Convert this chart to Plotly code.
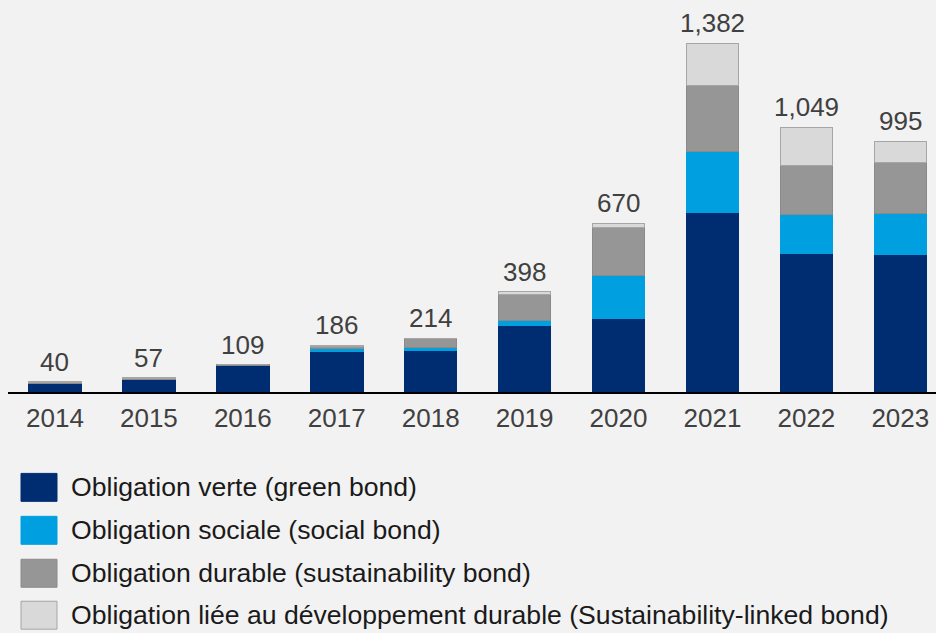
import plotly.graph_objects as go

years = ["2014", "2015", "2016", "2017", "2018", "2019", "2020", "2021", "2022", "2023"]
green = [34, 49, 104, 161, 164, 265, 290, 713, 549, 545]
social = [0, 0, 0, 11, 14, 20, 172, 242, 153, 163]
sustain = [2, 3, 5, 7, 36, 100, 189, 260, 198, 202]
linked = [4, 5, 0, 7, 0, 13, 19, 167, 149, 85]
totals = [40, 57, 109, 186, 214, 398, 670, 1382, 1049, 995]
total_labels = ["40", "57", "109", "186", "214", "398", "670", "1,382", "1,049", "995"]

names = [
    "Obligation verte (green bond)",
    "Obligation sociale (social bond)",
    "Obligation durable (sustainability bond)",
    "Obligation liée au développement durable (Sustainability-linked bond)",
]
colors = ["#002D72", "#009FDF", "#969696", "#D9D9D9"]
line_colors = ["#002D72", "#009FDF", "#8a8a8a", "#a6a6a6"]
series = [green, social, sustain, linked]

W, H = 936, 633
L, R, T, B = 8, 0, 10, 240.5
plot_h = H - T - B
plot_w = W - L - R
bottom_px = H - B

fig = go.Figure()
for nm, vals, c, lc in zip(names, series, colors, line_colors):
    fig.add_trace(go.Bar(
        x=years, y=vals, name=nm,
        marker=dict(color=c, line=dict(color=lc, width=1)),
        showlegend=False,
    ))

for i, (tot, lab) in enumerate(zip(totals, total_labels)):
    fig.add_annotation(
        x=i, y=tot, xref="x", yref="y", text=lab, showarrow=False,
        yanchor="bottom", yshift=3,
        font=dict(family="Liberation Sans, Arial", size=26, color="#404040"),
    )

def px_x(px):
    return (px - L) / plot_w

def px_y(py):
    return (bottom_px - py) / plot_h

sq_tops = [474, 517, 560, 602]
for nm, c, lc, top in zip(names, colors, line_colors, sq_tops):
    fig.add_shape(
        type="rect", xref="paper", yref="paper",
        x0=px_x(21), x1=px_x(57), y0=px_y(top + 28), y1=px_y(top),
        fillcolor=c, line=dict(color=lc, width=1),
    )
    fig.add_annotation(
        xref="paper", yref="paper", x=px_x(69), y=px_y(top + 14),
        xanchor="left", yanchor="middle", text=nm, showarrow=False,
        font=dict(family="Liberation Sans, Arial", size=26.6, color="#1a1a1a"),
    )

ymax = plot_h / 0.2525
fig.update_layout(
    barmode="stack",
    bargap=0.44,
    width=W, height=H,
    margin=dict(l=L, r=R, t=T, b=B, pad=0),
    paper_bgcolor="#F2F2F2",
    plot_bgcolor="#F2F2F2",
    xaxis=dict(
        type="category",
        range=[-0.5, 9.38],
        showline=True, linecolor="black", linewidth=2,
        showgrid=False, ticks="", ticklabelstandoff=2,
        tickfont=dict(family="Liberation Sans, Arial", size=26, color="#404040"),
    ),
    yaxis=dict(
        range=[0, ymax], showticklabels=False, showline=False,
        showgrid=False, zeroline=False, ticks="",
    ),
)

fig.write_html(
    "out.html",
    config={"displayModeBar": False},
    post_script="document.body.style.margin='0';document.body.style.background='#F2F2F2';",
)
